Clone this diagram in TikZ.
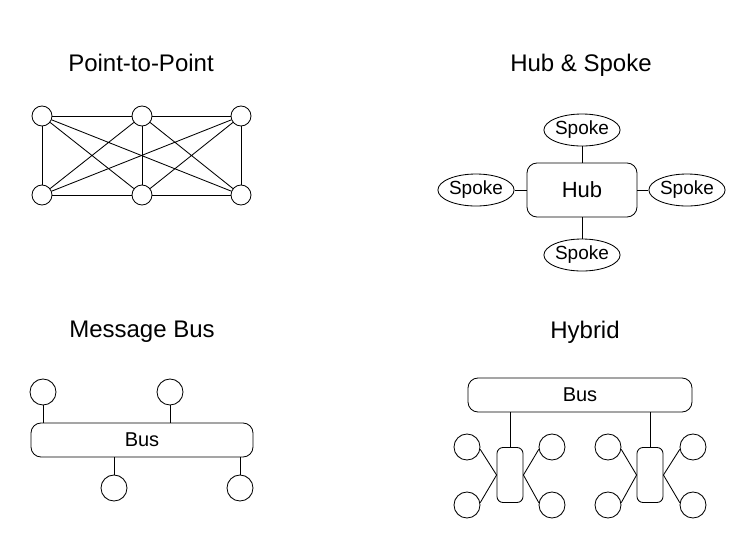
\documentclass[tikz,border=0pt]{standalone}
\usepackage{fontspec}
\setmainfont{Liberation Sans}
\usetikzlibrary{shapes.geometric}
\begin{document}
\begin{tikzpicture}[x=1pt,y=-1pt,line width=0.85pt,
  title/.style={font=\fontsize{24}{28}\selectfont},
  peer/.style={draw,circle,fill=white,inner sep=0pt,minimum size=20pt},
  client/.style={draw,circle,fill=white,inner sep=0pt,minimum size=26pt},
  spoke/.style={draw,ellipse,inner sep=0pt,minimum width=67pt,minimum height=32pt,font=\fontsize{19}{22}\selectfont},
  hubbox/.style={draw,rounded corners=10pt,inner sep=0pt,font=\fontsize{20}{24}\selectfont},
  adapter/.style={draw,rounded corners=6pt,inner sep=0pt,minimum width=26pt,minimum height=55pt}]
\useasboundingbox (0,0) rectangle (750,550);

% point-to-point
\node[title] (ptitle) at (141,63) {Point-to-Point};
\node[peer] (a1) at (42,116) {};
\node[peer] (a2) at (142,116) {};
\node[peer] (a3) at (241,116) {};
\node[peer] (b1) at (42,195) {};
\node[peer] (b2) at (142,195) {};
\node[peer] (b3) at (241,195) {};
\draw (a1) -- (a2) (a2) -- (a3) (b1) -- (b2) (b2) -- (b3);
\draw (a1) -- (b1) (a2) -- (b2) (a3) -- (b3);
\draw (a1) -- (b2) (a1) -- (b3) (a2) -- (b1);
\draw (a2) -- (b3) (a3) -- (b1) (a3) -- (b2);

% hub and spoke
\node[title] (htitle) at (581,65) {Hub \& Spoke};
\node[hubbox,minimum width=110pt,minimum height=54pt,font=\fontsize{22}{26}\selectfont] (hub) at (582,190) {Hub};
\node[spoke] (sn) at (582,130) {Spoke};
\node[spoke] (sw) at (476,190) {Spoke};
\node[spoke] (se) at (687,190) {Spoke};
\node[spoke] (ss) at (582,255) {Spoke};
\draw (hub) -- (sn) (hub) -- (sw) (hub) -- (se) (hub) -- (ss);

% message bus
\node[title] (mtitle) at (142,332) {Message Bus};
\node[hubbox,minimum width=222pt,minimum height=34pt] (bus) at (142,440) {Bus};
\node[client] (m1) at (43,392) {};
\node[client] (m2) at (170,392) {};
\node[client] (m3) at (114,488) {};
\node[client] (m4) at (240,488) {};
\draw (m1) -- (m1 |- bus.north) (m2) -- (m2 |- bus.north);
\draw (m3) -- (m3 |- bus.south) (m4) -- (m4 |- bus.south);

% hybrid
\node[title] (ytitle) at (585,332) {Hybrid};
\node[hubbox,minimum width=224pt,minimum height=34pt] (hbus) at (580,395) {Bus};
\node[adapter] (hl) at (510,475) {};
\node[adapter] (hr) at (650,475) {};
\draw (hl |- hbus.south) -- (hl) (hr |- hbus.south) -- (hr);
\node[client] (l1) at (467,447) {};
\node[client] (l2) at (467,505) {};
\node[client] (l3) at (552,447) {};
\node[client] (l4) at (552,505) {};
\node[client] (r1) at (608,447) {};
\node[client] (r2) at (608,505) {};
\node[client] (r3) at (693,447) {};
\node[client] (r4) at (693,505) {};
\draw (l1.-10) -- (hl.west) (l2.10) -- (hl.west);
\draw (l3.190) -- (hl.east) (l4.170) -- (hl.east);
\draw (r1.-10) -- (hr.west) (r2.10) -- (hr.west);
\draw (r3.190) -- (hr.east) (r4.170) -- (hr.east);
\end{tikzpicture}
\end{document}
